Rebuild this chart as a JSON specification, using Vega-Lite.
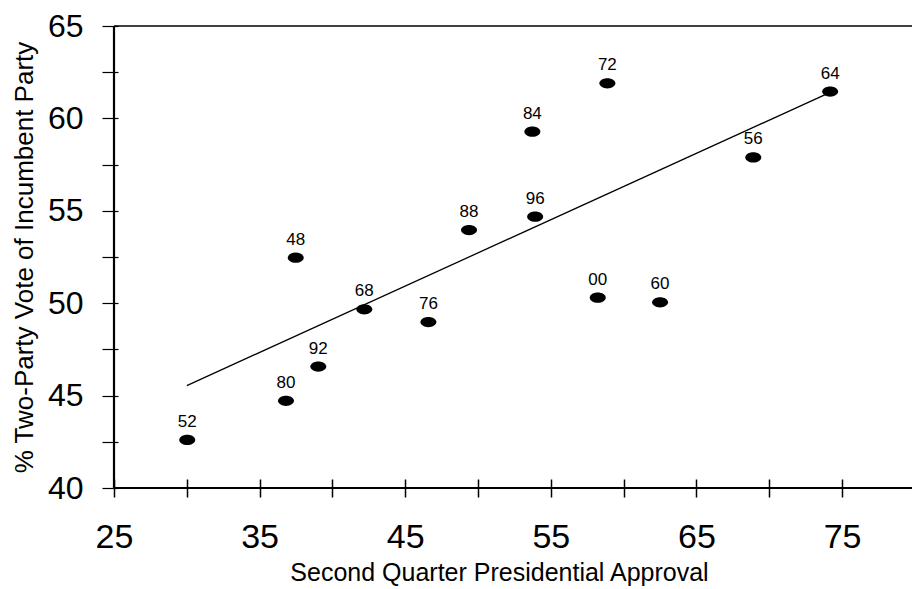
{
  "$schema": "https://vega.github.io/schema/vega-lite/v6.json",
  "width": 798,
  "height": 462,
  "autosize": {"type": "none"},
  "padding": {"left": 114, "top": 26, "right": 0, "bottom": 101},
  "background": "white",
  "config": {
    "view": {"stroke": null},
    "font": "Liberation Sans",
    "axis": {"grid": false, "labelColor": "black", "titleColor": "black", "domainColor": "black", "tickColor": "black", "labelFont": "Liberation Sans", "titleFont": "Liberation Sans", "titleFontWeight": "normal", "labelOverlap": false, "labelBound": false, "labelFlush": false}
  },
  "datasets": {
    "pts": [
      {"year": "52", "approval": 30.03, "vote": 42.60},
      {"year": "80", "approval": 36.81, "vote": 44.72},
      {"year": "92", "approval": 39.03, "vote": 46.57},
      {"year": "48", "approval": 37.48, "vote": 52.46},
      {"year": "68", "approval": 42.19, "vote": 49.67},
      {"year": "76", "approval": 46.59, "vote": 48.98},
      {"year": "88", "approval": 49.38, "vote": 53.96},
      {"year": "84", "approval": 53.73, "vote": 59.28},
      {"year": "96", "approval": 53.92, "vote": 54.68},
      {"year": "72", "approval": 58.88, "vote": 61.90},
      {"year": "00", "approval": 58.22, "vote": 50.30},
      {"year": "60", "approval": 62.50, "vote": 50.05},
      {"year": "56", "approval": 68.90, "vote": 57.89},
      {"year": "64", "approval": 74.18, "vote": 61.45}
    ],
    "fit": [
      {"approval": 30.0, "vote": 45.54},
      {"approval": 74.18, "vote": 61.41}
    ]
  },
  "layer": [
    {
      "data": {"values": [{}]},
      "mark": {"type": "rule", "color": "black", "strokeWidth": 1.6},
      "encoding": {
        "y": {"datum": 65, "type": "quantitative", "scale": {"domain": [40, 65], "nice": false, "zero": false}}
      }
    },
    {
      "data": {"values": [{}]},
      "mark": {"type": "rule", "color": "black", "strokeWidth": 2},
      "encoding": {
        "y": {"datum": 40, "type": "quantitative", "scale": {"domain": [40, 65], "nice": false, "zero": false}}
      }
    },
    {
      "data": {"values": [{}]},
      "mark": {"type": "rule", "color": "black", "strokeWidth": 2.2},
      "encoding": {
        "x": {"datum": 25, "type": "quantitative", "scale": {"domain": [25, 79.8], "nice": false, "zero": false}}
      }
    },
    {
      "data": {"name": "fit"},
      "mark": {"type": "line", "color": "black", "strokeWidth": 1.3},
      "encoding": {
        "x": {"field": "approval", "type": "quantitative", "scale": {"domain": [25, 79.8], "nice": false, "zero": false}},
        "y": {"field": "vote", "type": "quantitative", "scale": {"domain": [40, 65], "nice": false, "zero": false}}
      }
    },
    {
      "data": {"name": "pts"},
      "mark": {"type": "point", "filled": true, "color": "black", "opacity": 1, "size": 256, "shape": "M-1,0A1,0.64,0,1,1,1,0A1,0.64,0,1,1,-1,0Z"},
      "encoding": {
        "x": {"field": "approval", "type": "quantitative", "scale": {"domain": [25, 79.8], "nice": false, "zero": false},
          "axis": {"orient": "bottom", "offset": -9, "values": [25, 30, 35, 40, 45, 50, 55, 60, 65, 70, 75],
            "labelExpr": "datum.value % 10 == 5 ? datum.label : ''",
            "domain": false, "tickSize": 18, "tickWidth": 1.5, "labelFontSize": 34, "labelPadding": 23, "labelDx": -5,
            "title": "Second Quarter Presidential Approval", "titleFontSize": 25, "titleX": 385, "titleY": 101, "titleBaseline": "alphabetic", "titleAlign": "center"}},
        "y": {"field": "vote", "type": "quantitative", "scale": {"domain": [40, 65], "nice": false, "zero": false},
          "axis": {"orient": "left", "offset": -4, "values": [40, 42.5, 45, 47.5, 50, 52.5, 55, 57.5, 60, 62.5, 65],
            "labelExpr": "datum.value % 5 == 0 ? datum.label : ''",
            "domain": false, "tickSize": 16, "tickWidth": 1.2, "labelFontSize": 32, "labelPadding": 19,
            "title": "% Two-Party Vote of Incumbent Party", "titleFontSize": 26, "titleX": -86, "titleY": 231, "titleAngle": -90, "titleBaseline": "alphabetic", "titleAlign": "center"}}
      }
    },
    {
      "data": {"name": "pts"},
      "mark": {"type": "text", "color": "black", "fontSize": 17, "font": "Liberation Sans", "baseline": "alphabetic", "align": "center", "dy": -13},
      "encoding": {
        "x": {"field": "approval", "type": "quantitative", "scale": {"domain": [25, 79.8], "nice": false, "zero": false}},
        "y": {"field": "vote", "type": "quantitative", "scale": {"domain": [40, 65], "nice": false, "zero": false}},
        "text": {"field": "year", "type": "nominal"}
      }
    }
  ]
}
